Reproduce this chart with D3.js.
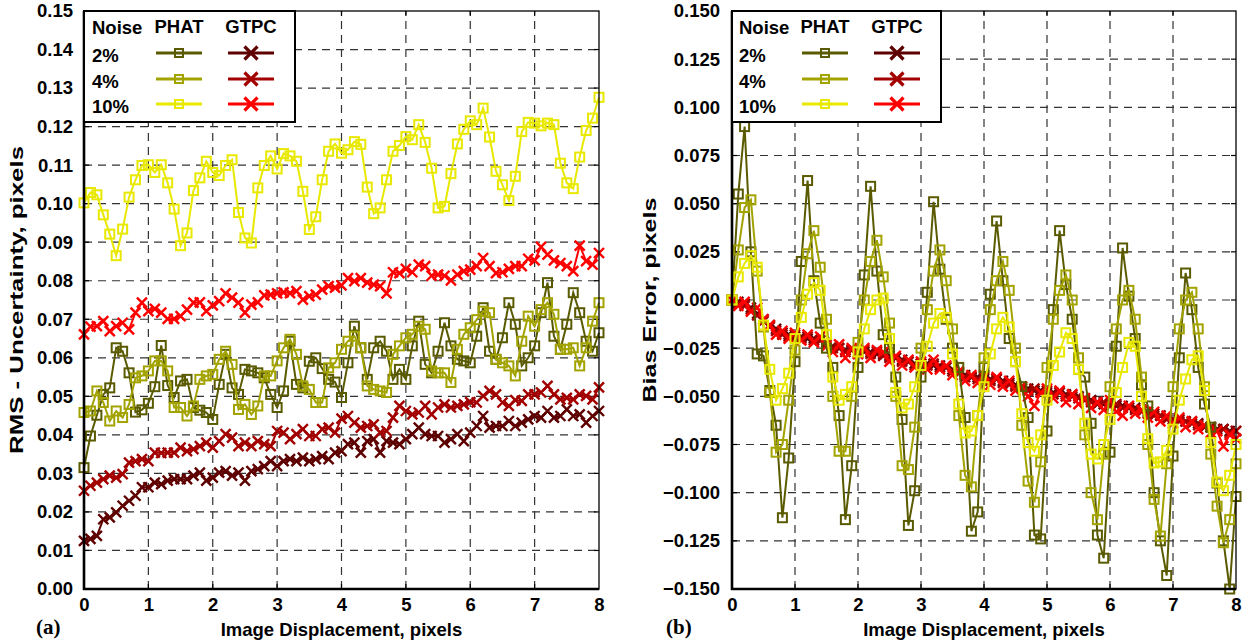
<!DOCTYPE html>
<html>
<head>
<meta charset="utf-8">
<script src="https://cdn.jsdelivr.net/npm/d3@7"></script>
<style>
  body { margin: 0; background: #fff; }
  svg text { font-family: "Liberation Sans", Arial, sans-serif; font-weight: bold; fill: #000; }
</style>
</head>
<body>
<svg id="chart" width="1245" height="642"></svg>
<script>
// Sampling grid: image displacement in pixels, 0 to 8 in steps of 0.1
const displacement = d3.range(81).map(i => i / 10);

const noiseLevels = ["2%", "4%", "10%"];
const methods = ["PHAT", "GTPC"];
const xTicks = [0, 1, 2, 3, 4, 5, 6, 7, 8];
const rmsTicks = [0, 0.01, 0.02, 0.03, 0.04, 0.05, 0.06, 0.07, 0.08, 0.09, 0.10, 0.11, 0.12, 0.13, 0.14, 0.15];
const biasTicks = [-0.150, -0.125, -0.100, -0.075, -0.050, -0.025, 0, 0.025, 0.050, 0.075, 0.100, 0.125, 0.150];

// (a) RMS uncertainty, pixels
const rmsPhat2 = [0.0315,0.0397,0.0451,0.0505,0.0522,0.0626,0.0617,0.0561,0.0459,0.0465,
  0.0482,0.0525,0.0632,0.0528,0.0497,0.0540,0.0544,0.0471,0.0464,0.0458,
  0.0440,0.0531,0.0609,0.0522,0.0505,0.0570,0.0566,0.0561,0.0548,0.0505,
  0.0471,0.0514,0.0643,0.0531,0.0522,0.0591,0.0600,0.0572,0.0544,0.0537,
  0.0497,0.0587,0.0682,0.0626,0.0544,0.0626,0.0643,0.0617,0.0544,0.0570,
  0.0544,0.0631,0.0695,0.0583,0.0561,0.0617,0.0691,0.0631,0.0596,0.0592,
  0.0587,0.0656,0.0730,0.0617,0.0596,0.0652,0.0743,0.0687,0.0579,0.0600,
  0.0631,0.0717,0.0795,0.0656,0.0622,0.0687,0.0769,0.0717,0.0643,0.0617,
  0.0665];
const rmsPhat4 = [0.0458,0.0462,0.0514,0.0484,0.0436,0.0462,0.0445,0.0479,0.0548,0.0553,
  0.0566,0.0592,0.0592,0.0566,0.0471,0.0471,0.0449,0.0475,0.0544,0.0553,
  0.0557,0.0596,0.0617,0.0583,0.0466,0.0479,0.0453,0.0475,0.0553,0.0553,
  0.0592,0.0626,0.0648,0.0609,0.0527,0.0518,0.0484,0.0484,0.0574,0.0587,
  0.0622,0.0643,0.0656,0.0626,0.0527,0.0518,0.0514,0.0510,0.0609,0.0631,
  0.0652,0.0661,0.0682,0.0674,0.0566,0.0561,0.0561,0.0536,0.0622,0.0661,
  0.0678,0.0699,0.0721,0.0717,0.0596,0.0587,0.0579,0.0553,0.0643,0.0708,
  0.0682,0.0725,0.0743,0.0713,0.0622,0.0622,0.0626,0.0579,0.0626,0.0695,
  0.0743];
const rmsPhat10 = [0.1002,0.1029,0.1023,0.0971,0.0921,0.0865,0.0934,0.1017,0.1062,0.1099,
  0.1101,0.1081,0.1101,0.1054,0.0986,0.0891,0.0924,0.1034,0.1067,0.1110,
  0.1081,0.1073,0.1099,0.1114,0.0977,0.0911,0.0898,0.1041,0.1099,0.1124,
  0.1090,0.1130,0.1124,0.1110,0.1032,0.0933,0.0966,0.1062,0.1136,0.1155,
  0.1131,0.1140,0.1161,0.1154,0.1043,0.0974,0.0989,0.1062,0.1136,0.1151,
  0.1174,0.1166,0.1205,0.1159,0.1092,0.0989,0.0993,0.1078,0.1155,0.1193,
  0.1215,0.1205,0.1248,0.1173,0.1084,0.1049,0.1008,0.1071,0.1187,0.1211,
  0.1209,0.1202,0.1209,0.1205,0.1105,0.1054,0.1039,0.1121,0.1190,0.1222,
  0.1276];
const rmsGtpc2 = [0.0125,0.0130,0.0138,0.0181,0.0186,0.0199,0.0216,0.0229,0.0242,0.0264,
  0.0264,0.0276,0.0272,0.0281,0.0285,0.0285,0.0285,0.0294,0.0302,0.0281,
  0.0289,0.0302,0.0306,0.0294,0.0302,0.0281,0.0306,0.0311,0.0319,0.0332,
  0.0319,0.0332,0.0337,0.0332,0.0341,0.0332,0.0337,0.0345,0.0337,0.0354,
  0.0358,0.0376,0.0380,0.0354,0.0384,0.0389,0.0354,0.0384,0.0380,0.0376,
  0.0389,0.0402,0.0419,0.0402,0.0397,0.0397,0.0380,0.0389,0.0402,0.0384,
  0.0406,0.0423,0.0449,0.0419,0.0423,0.0423,0.0436,0.0423,0.0432,0.0440,
  0.0449,0.0445,0.0462,0.0445,0.0449,0.0466,0.0449,0.0453,0.0432,0.0449,
  0.0462];
const rmsGtpc4 = [0.0255,0.0268,0.0276,0.0285,0.0294,0.0289,0.0298,0.0328,0.0332,0.0337,
  0.0332,0.0354,0.0353,0.0354,0.0354,0.0367,0.0358,0.0363,0.0371,0.0380,
  0.0367,0.0384,0.0402,0.0393,0.0371,0.0380,0.0371,0.0384,0.0376,0.0371,
  0.0410,0.0406,0.0389,0.0402,0.0415,0.0397,0.0397,0.0415,0.0419,0.0406,
  0.0442,0.0449,0.0432,0.0419,0.0423,0.0427,0.0406,0.0410,0.0445,0.0475,
  0.0462,0.0453,0.0458,0.0475,0.0453,0.0471,0.0479,0.0471,0.0475,0.0479,
  0.0485,0.0484,0.0501,0.0514,0.0505,0.0484,0.0475,0.0490,0.0488,0.0505,
  0.0505,0.0510,0.0527,0.0505,0.0492,0.0496,0.0492,0.0505,0.0501,0.0492,
  0.0523];
const rmsGtpc10 = [0.0661,0.0681,0.0682,0.0695,0.0669,0.0682,0.0691,0.0674,0.0717,0.0743,
  0.0721,0.0727,0.0717,0.0701,0.0701,0.0708,0.0725,0.0743,0.0744,0.0721,
  0.0736,0.0747,0.0767,0.0756,0.0743,0.0717,0.0738,0.0744,0.0762,0.0764,
  0.0767,0.0770,0.0768,0.0773,0.0751,0.0760,0.0764,0.0777,0.0786,0.0782,
  0.0788,0.0807,0.0799,0.0807,0.0795,0.0790,0.0786,0.0767,0.0822,0.0820,
  0.0831,0.0822,0.0842,0.0838,0.0813,0.0816,0.0813,0.0801,0.0816,0.0825,
  0.0829,0.0838,0.0859,0.0838,0.0820,0.0822,0.0831,0.0838,0.0838,0.0857,
  0.0853,0.0888,0.0868,0.0853,0.0846,0.0838,0.0825,0.0891,0.0851,0.0842,
  0.0872];

// (b) Bias error, pixels
const biasPhat2 = [0.000,0.055,0.090,0.025,-0.028,-0.029,-0.047,-0.065,-0.113,-0.082,
  -0.032,0.020,0.062,0.010,-0.012,-0.025,-0.035,-0.060,-0.114,-0.086,
  -0.035,0.013,0.059,0.015,-0.018,-0.025,-0.040,-0.062,-0.117,-0.099,
  -0.040,0.004,0.051,0.016,-0.010,-0.025,-0.035,-0.061,-0.120,-0.110,
  -0.035,0.003,0.041,0.010,-0.020,-0.032,-0.045,-0.061,-0.122,-0.124,
  -0.068,-0.005,0.036,0.008,-0.010,-0.036,-0.040,-0.064,-0.122,-0.134,
  -0.079,-0.024,0.027,0.002,-0.020,-0.044,-0.055,-0.100,-0.125,-0.143,
  -0.081,-0.030,0.014,-0.005,-0.035,-0.054,-0.066,-0.095,-0.125,-0.150,
  -0.102];
const biasPhat4 = [0.000,0.026,0.048,0.052,0.015,-0.014,-0.048,-0.079,-0.075,-0.052,
  -0.026,0.000,0.024,0.036,0.017,-0.010,-0.050,-0.0785,-0.0785,-0.050,
  -0.022,0.000,0.020,0.031,0.012,-0.012,-0.050,-0.086,-0.088,-0.066,
  -0.025,-0.005,0.015,0.026,0.010,-0.015,-0.060,-0.091,-0.097,-0.060,
  -0.030,-0.005,0.010,0.020,0.005,-0.025,-0.065,-0.094,-0.105,-0.084,
  -0.035,-0.010,0.005,0.013,0.000,-0.030,-0.070,-0.100,-0.114,-0.080,
  -0.045,-0.015,0.000,0.005,-0.010,-0.040,-0.075,-0.1035,-0.1225,-0.085,
  -0.045,-0.015,0.000,0.004,-0.015,-0.045,-0.080,-0.107,-0.126,-0.114,
  -0.085];
const biasPhat10 = [0.000,0.012,0.019,0.023,0.017,-0.013,-0.036,-0.052,-0.046,-0.038,
  -0.020,-0.009,0.003,0.009,0.005,-0.018,-0.040,-0.052,-0.049,-0.045,
  -0.027,-0.015,-0.005,0.000,0.001,-0.020,-0.048,-0.056,-0.054,-0.045,
  -0.034,-0.024,-0.012,-0.007,-0.009,-0.028,-0.054,-0.069,-0.068,-0.060,
  -0.045,-0.028,-0.015,-0.009,-0.014,-0.032,-0.059,-0.074,-0.0785,-0.070,
  -0.052,-0.034,-0.027,-0.017,-0.020,-0.036,-0.064,-0.080,-0.0825,-0.075,
  -0.062,-0.048,-0.035,-0.022,-0.024,-0.050,-0.072,-0.0846,-0.084,-0.078,
  -0.067,-0.052,-0.041,-0.031,-0.029,-0.047,-0.074,-0.0945,-0.099,-0.091,
  -0.075];
const biasGtpc2 = [0.000,-0.001,-0.002,-0.004,-0.007,-0.010,-0.013,-0.015,-0.017,-0.018,
  -0.019,-0.019,-0.020,-0.020,-0.021,-0.022,-0.024,-0.025,-0.026,-0.026,
  -0.027,-0.027,-0.027,-0.028,-0.028,-0.029,-0.030,-0.031,-0.032,-0.033,
  -0.033,-0.033,-0.034,-0.034,-0.035,-0.036,-0.038,-0.039,-0.040,-0.040,
  -0.041,-0.041,-0.041,-0.042,-0.043,-0.044,-0.045,-0.046,-0.047,-0.047,
  -0.048,-0.048,-0.048,-0.049,-0.049,-0.050,-0.051,-0.052,-0.053,-0.054,
  -0.054,-0.055,-0.055,-0.056,-0.056,-0.057,-0.058,-0.059,-0.060,-0.061,
  -0.062,-0.062,-0.063,-0.063,-0.064,-0.065,-0.066,-0.067,-0.067,-0.068,
  -0.068];
const biasGtpc4 = [0.000,-0.002,-0.003,-0.005,-0.008,-0.011,-0.014,-0.016,-0.018,-0.019,
  -0.018,-0.020,-0.019,-0.021,-0.021,-0.023,-0.025,-0.025,-0.027,-0.026,
  -0.028,-0.026,-0.028,-0.027,-0.029,-0.030,-0.030,-0.032,-0.032,-0.034,
  -0.033,-0.034,-0.033,-0.035,-0.035,-0.037,-0.038,-0.040,-0.040,-0.041,
  -0.040,-0.042,-0.041,-0.043,-0.044,-0.045,-0.046,-0.047,-0.046,-0.048,
  -0.047,-0.049,-0.048,-0.050,-0.050,-0.051,-0.052,-0.053,-0.054,-0.053,
  -0.055,-0.054,-0.056,-0.056,-0.057,-0.058,-0.059,-0.060,-0.060,-0.062,
  -0.062,-0.063,-0.063,-0.064,-0.065,-0.066,-0.066,-0.068,-0.067,-0.069,
  -0.068];
const biasGtpc10 = [0.000,-0.003,-0.001,-0.006,-0.004,-0.010,-0.013,-0.018,-0.016,-0.020,
  -0.017,-0.021,-0.018,-0.022,-0.019,-0.024,-0.027,-0.023,-0.030,-0.025,
  -0.028,-0.025,-0.030,-0.026,-0.027,-0.032,-0.029,-0.034,-0.031,-0.035,
  -0.032,-0.036,-0.031,-0.036,-0.034,-0.039,-0.037,-0.042,-0.039,-0.043,
  -0.039,-0.044,-0.040,-0.045,-0.042,-0.047,-0.045,-0.050,-0.055,-0.048,
  -0.046,-0.051,-0.047,-0.053,-0.049,-0.054,-0.051,-0.056,-0.053,-0.057,
  -0.052,-0.058,-0.060,-0.055,-0.059,-0.057,-0.061,-0.058,-0.063,-0.060,
  -0.064,-0.061,-0.066,-0.063,-0.067,-0.065,-0.069,-0.068,-0.076,-0.070,
  -0.072];

const phatColors = ["#5a5a00", "#a3a300", "#e8e800"];
const gtpcColors = ["#5e0000", "#a30000", "#ff0000"];

const svg = d3.select("#chart");
const FONT = 18.5;

function drawPanel(cfg) {
  const g = svg.append("g");
  const x = d3.scaleLinear().domain([0, 8]).range([cfg.x0, cfg.x1]);
  const y = d3.scaleLinear().domain([cfg.ticks[0], cfg.ticks[cfg.ticks.length - 1]]).range([cfg.y1, cfg.y0]);

  // dashed grid
  const grid = g.append("g").attr("stroke", "#333").attr("stroke-width", 1.2).attr("stroke-dasharray", "8,6");
  grid.selectAll("line.h").data(cfg.ticks.slice(1, -1)).join("line")
    .attr("x1", cfg.x0).attr("x2", cfg.x1).attr("y1", d => y(d)).attr("y2", d => y(d));
  grid.selectAll("line.v").data(xTicks.slice(1, -1)).join("line")
    .attr("y1", cfg.y1).attr("y2", cfg.y0).attr("x1", d => x(d)).attr("x2", d => x(d));

  // small solid tick marks on all four sides
  const tk = g.append("g").attr("stroke", "#000").attr("stroke-width", 1.2);
  cfg.ticks.slice(1, -1).forEach(t => {
    tk.append("line").attr("x1", cfg.x0).attr("x2", cfg.x0 + 5).attr("y1", y(t)).attr("y2", y(t));
    tk.append("line").attr("x1", cfg.x1 - 5).attr("x2", cfg.x1).attr("y1", y(t)).attr("y2", y(t));
  });
  xTicks.slice(1, -1).forEach(t => {
    tk.append("line").attr("x1", x(t)).attr("x2", x(t)).attr("y1", cfg.y1).attr("y2", cfg.y1 - 5);
    tk.append("line").attr("x1", x(t)).attr("x2", x(t)).attr("y1", cfg.y0).attr("y2", cfg.y0 + 5);
  });

  // series
  const line = d3.line().x((d, i) => x(displacement[i])).y(d => y(d));
  const order = [
    { data: cfg.gtpc[0], color: gtpcColors[0], mark: "x" },
    { data: cfg.gtpc[1], color: gtpcColors[1], mark: "x" },
    { data: cfg.gtpc[2], color: gtpcColors[2], mark: "x" },
    { data: cfg.phat[0], color: phatColors[0], mark: "s" },
    { data: cfg.phat[1], color: phatColors[1], mark: "s" },
    { data: cfg.phat[2], color: phatColors[2], mark: "s" }
  ];
  order.forEach(s => {
    const sg = g.append("g");
    sg.append("path").attr("d", line(s.data)).attr("fill", "none")
      .attr("stroke", s.color).attr("stroke-width", 2);
    drawMarkers(sg, s.data.map((v, i) => [x(displacement[i]), y(v)]), s.mark, s.color);
  });

  // frame
  g.append("rect").attr("x", cfg.x0).attr("y", cfg.y0).attr("width", cfg.x1 - cfg.x0).attr("height", cfg.y1 - cfg.y0)
    .attr("fill", "none").attr("stroke", "#000").attr("stroke-width", 1.3);
  g.append("line").attr("x1", cfg.x0).attr("x2", cfg.x0).attr("y1", cfg.y0).attr("y2", cfg.y1 + 1)
    .attr("stroke", "#000").attr("stroke-width", 2.6);
  g.append("line").attr("x1", cfg.x0 - 1).attr("x2", cfg.x1).attr("y1", cfg.y1).attr("y2", cfg.y1)
    .attr("stroke", "#000").attr("stroke-width", 2.6);

  // axes labels
  const ya = g.append("g").attr("transform", `translate(${cfg.x0},0)`)
    .call(d3.axisLeft(y).tickValues(cfg.ticks).tickFormat(d3.format(cfg.fmt)).tickSize(0).tickPadding(cfg.ypad));
  ya.select(".domain").remove();
  ya.selectAll("text").style("font-size", FONT + "px").attr("font-family", null).attr("fill", "#000");
  const xa = g.append("g").attr("transform", `translate(0,${cfg.y1})`)
    .call(d3.axisBottom(x).tickValues(xTicks).tickFormat(d3.format("d")).tickSize(0).tickPadding(9));
  xa.select(".domain").remove();
  xa.selectAll("text").style("font-size", FONT + "px").attr("font-family", null).attr("fill", "#000");

  g.append("text").attr("x", (cfg.x0 + cfg.x1) / 2).attr("y", 636).attr("text-anchor", "middle")
    .style("font-size", FONT + "px").text("Image Displacement, pixels");
  g.append("text").attr("transform", `translate(${cfg.ylabelX},${(cfg.y0 + cfg.y1) / 2}) rotate(-90)`)
    .attr("text-anchor", "middle").style("font-size", "19px")
    .attr("textLength", cfg.ylabelLen).attr("lengthAdjust", "spacingAndGlyphs").text(cfg.ylabel);
  g.append("text").attr("x", cfg.tagX).attr("y", 634)
    .style("font-family", "'Liberation Serif', 'Times New Roman', serif").style("font-size", "21px").text(cfg.tag);

  // legend
  const L = cfg.legend;
  const lg = g.append("g");
  lg.append("rect").attr("x", cfg.x0).attr("y", cfg.y0).attr("width", L.w).attr("height", L.h)
    .attr("fill", "#fff").attr("stroke", "#000").attr("stroke-width", 2);
  lg.append("text").attr("x", L.noiseX).attr("y", 34).style("font-size", FONT + "px").text("Noise");
  lg.append("text").attr("x", L.phatX).attr("y", 33).attr("text-anchor", "middle").style("font-size", FONT + "px").text(methods[0]);
  lg.append("text").attr("x", L.gtpcX).attr("y", 33).attr("text-anchor", "middle").style("font-size", FONT + "px").text(methods[1]);
  const rowY = [53, 79, 104];
  noiseLevels.forEach((n, i) => {
    lg.append("text").attr("x", L.noiseX).attr("y", rowY[i] + 8.5).style("font-size", FONT + "px").text(n);
    lg.append("line").attr("x1", L.phatX - 23).attr("x2", L.phatX + 23).attr("y1", rowY[i]).attr("y2", rowY[i])
      .attr("stroke", phatColors[i]).attr("stroke-width", 3);
    drawMarkers(lg, [[L.phatX, rowY[i]]], "s", phatColors[i], 8);
    lg.append("line").attr("x1", L.gtpcX - 23).attr("x2", L.gtpcX + 23).attr("y1", rowY[i]).attr("y2", rowY[i])
      .attr("stroke", gtpcColors[i]).attr("stroke-width", 3);
    drawMarkers(lg, [[L.gtpcX, rowY[i]]], "x", gtpcColors[i], 13);
  });
}

function drawMarkers(sel, pts, mark, color, size) {
  if (mark === "s") {
    const s = size || 9;
    sel.selectAll(null).data(pts).join("rect")
      .attr("x", d => d[0] - s / 2).attr("y", d => d[1] - s / 2).attr("width", s).attr("height", s)
      .attr("fill", "none").attr("stroke", color).attr("stroke-width", 2);
  } else {
    const h = (size || 10) / 2;
    sel.selectAll(null).data(pts).join("path")
      .attr("d", d => `M${d[0] - h},${d[1] - h}L${d[0] + h},${d[1] + h}M${d[0] - h},${d[1] + h}L${d[0] + h},${d[1] - h}`)
      .attr("fill", "none").attr("stroke", color).attr("stroke-width", size ? 3.2 : 2.4);
  }
}

drawPanel({
  x0: 84, x1: 599, y0: 11, y1: 589,
  ticks: rmsTicks, fmt: ".2f", ypad: 11,
  phat: [rmsPhat2, rmsPhat4, rmsPhat10], gtpc: [rmsGtpc2, rmsGtpc4, rmsGtpc10],
  ylabel: "RMS - Uncertainty, pixels", ylabelX: 23, ylabelLen: 308, tag: "(a)", tagX: 36,
  legend: { w: 211, h: 111, noiseX: 92, phatX: 179, gtpcX: 251 }
});
drawPanel({
  x0: 732, x1: 1236, y0: 11, y1: 589,
  ticks: biasTicks, fmt: ".3f", ypad: 12,
  phat: [biasPhat2, biasPhat4, biasPhat10], gtpc: [biasGtpc2, biasGtpc4, biasGtpc10],
  ylabel: "Bias Error, pixels", ylabelX: 656, ylabelLen: 205, tag: "(b)", tagX: 666,
  legend: { w: 209, h: 111, noiseX: 739, phatX: 825, gtpcX: 897 }
});
</script>
</body>
</html>
